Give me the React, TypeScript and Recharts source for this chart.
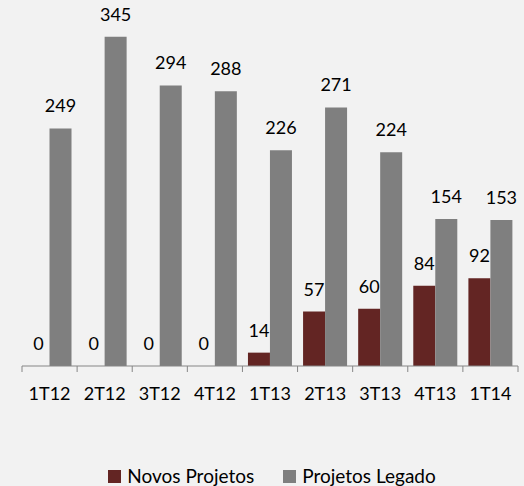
import { BarChart, Bar, XAxis, YAxis, Legend, LabelList } from 'recharts'

const quarters = ['1T12', '2T12', '3T12', '4T12', '1T13', '2T13', '3T13', '4T13', '1T14']
const novosProjetos = [0, 0, 0, 0, 14, 57, 60, 84, 92]
const projetosLegado = [249, 345, 294, 288, 226, 271, 224, 154, 153]

const RED = '#632523'
const GRAY = '#7F7F7F'
const AXIS = '#868686'
const FONT = 'Lato, "Open Sans", sans-serif'
const TICK_SIZE = 6
const TICK_MARGIN = 2

const data = quarters.map((q, i) => ({
  name: q,
  novos: novosProjetos[i],
  legado: projetosLegado[i],
}))

// category label + tick marks on the category boundaries (Excel style)
function QuarterTick(props: any) {
  const { x, y, payload, index, visibleTicksCount } = props
  const half = payload.offset || 0
  const axisY = y - TICK_SIZE - TICK_MARGIN
  return (
    <g>
      <line x1={x - half} x2={x - half} y1={axisY} y2={axisY + TICK_SIZE} stroke={AXIS} />
      {index === visibleTicksCount - 1 && (
        <line x1={x + half} x2={x + half} y1={axisY} y2={axisY + TICK_SIZE} stroke={AXIS} />
      )}
      <text x={x} y={axisY + 34} textAnchor="middle" fontSize={18} fontFamily={FONT} fill="#000">
        {payload.value}
      </text>
    </g>
  )
}

function LegendContent() {
  const items = [
    { label: 'Novos Projetos', color: RED },
    { label: 'Projetos Legado', color: GRAY },
  ]
  return (
    <div
      style={{
        display: 'flex',
        justifyContent: 'center',
        gap: 29,
        paddingLeft: 20,
        fontFamily: FONT,
        fontSize: 19,
        lineHeight: '16px',
      }}
    >
      {items.map((it) => (
        <div key={it.label} style={{ display: 'flex', alignItems: 'center', gap: 6, color: '#000' }}>
          <div style={{ width: 13, height: 13, background: it.color }} />
          <span>{it.label}</span>
        </div>
      ))}
    </div>
  )
}

export default function App() {
  return (
    <div
      style={{
        position: 'absolute',
        left: 0,
        top: 0,
        width: 524,
        height: 486,
        background: '#F2F2F2',
        fontFamily: FONT,
      }}
    >
      <BarChart
        width={524}
        height={486}
        data={data}
        margin={{ top: 32, right: 6, left: 22, bottom: 80 }}
        barCategoryGap="10%"
        barGap={0}
      >
        <XAxis
          dataKey="name"
          height={40}
          axisLine={{ stroke: AXIS }}
          tickLine={false}
          tickSize={TICK_SIZE}
          tickMargin={TICK_MARGIN}
          interval={0}
          tick={<QuarterTick />}
        />
        <YAxis hide domain={[0, 350]} />
        <Legend
          verticalAlign="middle"
          align="center"
          content={<LegendContent />}
          wrapperStyle={{ top: 468, left: 0, width: 524 }}
        />
        <Bar dataKey="novos" fill={RED} minPointSize={0.01} isAnimationActive={false}>
          <LabelList dataKey="novos" position="top" offset={16} fill="#000" fontSize={18} fontFamily={FONT} />
        </Bar>
        <Bar dataKey="legado" fill={GRAY} isAnimationActive={false}>
          <LabelList dataKey="legado" position="top" offset={16} fill="#000" fontSize={18} fontFamily={FONT} />
        </Bar>
      </BarChart>
    </div>
  )
}
